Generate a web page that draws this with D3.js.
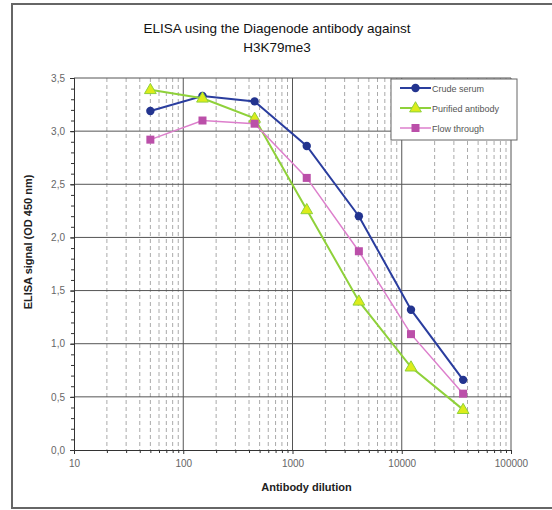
<!DOCTYPE html>
<html>
<head>
<meta charset="utf-8">
<script src="https://cdn.jsdelivr.net/npm/d3@7"></script>
<style>
  body { margin: 0; background: #fff; }
  text { font-family: "Liberation Sans", Arial, sans-serif; }
</style>
</head>
<body>
<div id="my_dataviz"></div>
<script>
// data
var dilutions = [50, 150, 450, 1350, 4050, 12150, 36450];
var crudeSerum = [3.19, 3.33, 3.28, 2.86, 2.20, 1.32, 0.66];
var purifiedAntibody = [3.39, 3.31, 3.12, 2.26, 1.40, 0.78, 0.38];
var flowThrough = [2.92, 3.10, 3.07, 2.56, 1.87, 1.09, 0.53];
var seriesNames = ["Crude serum", "Purified antibody", "Flow through"];
var xTicks = [10, 100, 1000, 10000, 100000];
var yTicks = [0, 0.5, 1, 1.5, 2, 2.5, 3, 3.5];

var W = 552, H = 510;
var margin = {top: 78, right: 41, bottom: 60, left: 74},
    width = W - margin.left - margin.right,
    height = H - margin.top - margin.bottom;

var root = d3.select("#my_dataviz")
  .append("svg")
    .attr("width", W)
    .attr("height", H);

// outer frame
root.append("rect")
  .attr("x", 12).attr("y", 4)
  .attr("width", 560).attr("height", 504)
  .attr("fill", "#fff")
  .attr("stroke", "#666")
  .attr("stroke-width", 2);

var svg = root.append("g")
  .attr("transform", "translate(" + margin.left + "," + margin.top + ")");

var x = d3.scaleLog().domain([10, 100000]).range([0, width]);
var y = d3.scaleLinear().domain([0, 3.5]).range([height, 0]);

// minor vertical grid (dashed)
var minor = [];
for (var p = 10; p < 100000; p *= 10) {
  for (var k = 2; k <= 9; k++) minor.push(p * k);
}
svg.selectAll(".minorV")
  .data(minor)
  .enter().append("line")
    .attr("x1", function(d) { return x(d); })
    .attr("x2", function(d) { return x(d); })
    .attr("y1", 0).attr("y2", height)
    .attr("stroke", "#aaa")
    .attr("stroke-dasharray", "4,3")
    .attr("stroke-width", 1);

// major grid
svg.selectAll(".majorV")
  .data(xTicks.slice(1))
  .enter().append("line")
    .attr("x1", function(d) { return x(d); })
    .attr("x2", function(d) { return x(d); })
    .attr("y1", 0).attr("y2", height)
    .attr("stroke", "#555")
    .attr("stroke-width", 1);

svg.selectAll(".majorH")
  .data(yTicks.slice(1))
  .enter().append("line")
    .attr("x1", 0).attr("x2", width)
    .attr("y1", function(d) { return y(d); })
    .attr("y2", function(d) { return y(d); })
    .attr("stroke", "#555")
    .attr("stroke-width", 1);

// axes
var fmt = function(d) { return d3.format(".1f")(d).replace(".", ","); };

var yAxis = svg.append("g")
  .call(d3.axisLeft(y).tickValues(yTicks).tickFormat(fmt).tickSize(4).tickPadding(5));
svg.append("g")
  .call(d3.axisLeft(y).tickValues(d3.range(0, 3.5001, 0.1)).tickFormat("").tickSize(3));

var xAxis = svg.append("g")
  .attr("transform", "translate(0," + height + ")")
  .call(d3.axisBottom(x).tickValues(xTicks).tickFormat(d3.format("d")).tickSize(4).tickPadding(6));
svg.append("g")
  .attr("transform", "translate(0," + height + ")")
  .call(d3.axisBottom(x).tickValues(minor).tickFormat("").tickSize(3));

svg.selectAll(".domain").attr("stroke", "#333");
svg.selectAll(".tick line").attr("stroke", "#333");
svg.selectAll(".tick text")
  .style("font-size", "10px")
  .attr("fill", "#666");

// axis titles
svg.append("text")
  .attr("x", width / 2 + 14)
  .attr("y", height + 41)
  .attr("text-anchor", "middle")
  .style("font-size", "11px")
  .style("font-weight", "bold")
  .attr("fill", "#222")
  .text("Antibody dilution");

svg.append("text")
  .attr("transform", "rotate(-90)")
  .attr("x", -(height / 2) + 22)
  .attr("y", -42)
  .attr("text-anchor", "middle")
  .style("font-size", "11px")
  .style("font-weight", "bold")
  .attr("fill", "#222")
  .text("ELISA signal (OD 450 nm)");

// title
root.append("text")
  .attr("x", 277).attr("y", 33)
  .attr("text-anchor", "middle")
  .style("font-size", "13.5px")
  .attr("fill", "#111")
  .text("ELISA using the Diagenode antibody against");
root.append("text")
  .attr("x", 277).attr("y", 52)
  .attr("text-anchor", "middle")
  .style("font-size", "13.5px")
  .attr("fill", "#111")
  .text("H3K79me3");

// series
var series = [
  {name: seriesNames[0], values: crudeSerum, line: "#2a3d9e", fill: "#23348f", shape: "circle", width: 2},
  {name: seriesNames[1], values: purifiedAntibody, line: "#8fd13a", fill: "#dcec1a", shape: "triangle", width: 2},
  {name: seriesNames[2], values: flowThrough, line: "#dd7fcc", fill: "#bb4fa9", shape: "square", width: 1.5}
];

var line = d3.line()
  .x(function(d) { return x(d[0]); })
  .y(function(d) { return y(d[1]); });

function marker(g, s, cx, cy) {
  if (s.shape === "circle") {
    g.append("circle").attr("cx", cx).attr("cy", cy).attr("r", 4.2)
      .attr("fill", s.fill);
  } else if (s.shape === "triangle") {
    g.append("path")
      .attr("d", d3.symbol().type(d3.symbolTriangle).size(60)())
      .attr("transform", "translate(" + cx + "," + (cy + 0.5) + ")")
      .attr("fill", s.fill).attr("stroke", s.line).attr("stroke-width", 1);
  } else {
    g.append("rect").attr("x", cx - 4).attr("y", cy - 4)
      .attr("width", 8).attr("height", 8)
      .attr("fill", s.fill);
  }
}

series.forEach(function(s) {
  var pts = dilutions.map(function(d, i) { return [d, s.values[i]]; });
  svg.append("path")
    .datum(pts)
    .attr("fill", "none")
    .attr("stroke", s.line)
    .attr("stroke-width", s.width)
    .attr("d", line);
  pts.forEach(function(p) { marker(svg, s, x(p[0]), y(p[1])); });
});

// legend
var legend = root.append("g").attr("transform", "translate(391,79)");
legend.append("rect")
  .attr("width", 126).attr("height", 61)
  .attr("fill", "#fff")
  .attr("stroke", "#666");
series.forEach(function(s, i) {
  var ly = 9 + i * 20;
  legend.append("line")
    .attr("x1", 9).attr("x2", 40)
    .attr("y1", ly).attr("y2", ly)
    .attr("stroke", s.line).attr("stroke-width", s.width);
  marker(legend, {shape: s.shape, fill: s.fill, line: s.line}, 24.5, ly);
  legend.append("text")
    .attr("x", 41).attr("y", ly + 3.5)
    .style("font-size", "9px")
    .attr("fill", "#555")
    .text(s.name);
});
</script>
</body>
</html>
